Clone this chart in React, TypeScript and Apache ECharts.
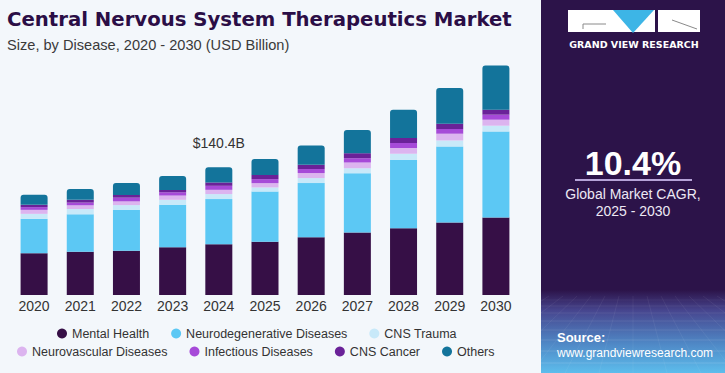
import React, { useEffect, useRef } from "react";
import * as echarts from "echarts";

const years = ["2020", "2021", "2022", "2023", "2024", "2025", "2026", "2027", "2028", "2029", "2030"];
const mentalHealth = [45.9, 47.6, 48.7, 52.5, 55.8, 58.6, 63.5, 68.5, 73.4, 79.5, 85.0];
const neurodegenerative = [37.7, 41.0, 44.8, 46.5, 49.5, 55.0, 59.4, 65.2, 75.1, 83.6, 94.6];
const cnsTrauma = [5.5, 5.8, 5.2, 5.5, 5.5, 4.5, 5.5, 5.5, 6.6, 6.6, 6.3];
const neurovascular = [4.4, 4.1, 4.1, 4.7, 4.7, 4.7, 5.5, 6.3, 6.3, 7.4, 6.6];
const infectious = [3.0, 3.0, 4.1, 3.6, 4.4, 4.4, 4.4, 4.7, 5.5, 5.2, 5.5];
const cnsCancer = [2.5, 3.0, 3.0, 2.5, 3.7, 4.7, 4.7, 5.5, 5.5, 5.8, 5.5];
const others = [11.0, 11.8, 13.2, 15.4, 16.8, 17.3, 21.2, 25.6, 31.1, 39.3, 48.4];

const seriesNames = [
  "Mental Health",
  "Neurodegenerative Diseases",
  "CNS Trauma",
  "Neurovascular Diseases",
  "Infectious Diseases",
  "CNS Cancer",
  "Others",
];
const seriesData = [mentalHealth, neurodegenerative, cnsTrauma, neurovascular, infectious, cnsCancer, others];
const seriesColors = ["#360f46", "#5cc8f4", "#c8e9f9", "#dcb4ef", "#a64ad8", "#6a2298", "#13749b"];

const highlightYear = "2024";
const highlightLabel = "$140.4B";

const FONT = "'Liberation Sans', Arial, sans-serif";

function panelGrid() {
  const items: any[] = [];
  const hs = [300, 306, 313, 321, 330, 340, 351, 363];
  hs.forEach((y, i) => {
    items.push({
      type: "line",
      shape: { x1: 541, y1: y, x2: 725, y2: y },
      style: { stroke: "#ffffff", opacity: 0.05 + i * 0.012, lineWidth: 1 },
      silent: true,
    });
  });
  for (let k = -8; k <= 8; k++) {
    items.push({
      type: "line",
      shape: { x1: 633 + k * 14, y1: 296, x2: 633 + k * 34, y2: 373 },
      style: { stroke: "#ffffff", opacity: 0.06, lineWidth: 1 },
      silent: true,
    });
  }
  return items;
}

export default function App() {
  const ref = useRef<HTMLDivElement>(null);

  useEffect(() => {
    if (!ref.current) return;
    const chart = echarts.init(ref.current, undefined, { renderer: "svg" });

    const series = seriesNames.map((name, i) => {
      const isTop = i === seriesNames.length - 1;
      return {
        name,
        type: "bar",
        stack: "total",
        barWidth: 27,
        itemStyle: {
          color: seriesColors[i],
          borderRadius: isTop ? [3, 3, 0, 0] : 0,
        },
        data: seriesData[i].map((v, j) =>
          isTop && years[j] === highlightYear
            ? {
                value: v,
                label: {
                  show: true,
                  position: "top",
                  distance: 17,
                  formatter: highlightLabel,
                  color: "#333333",
                  fontSize: 14,
                  fontFamily: FONT,
                },
              }
            : v
        ),
      };
    });

    const legendCommon = {
      icon: "circle",
      itemWidth: 10,
      itemHeight: 10,
      itemGap: 22,
      padding: 0,
      textStyle: { color: "#333333", fontSize: 12.5, fontFamily: FONT },
      selectedMode: false,
    };

    chart.setOption({
      animation: false,
      backgroundColor: "#f3f7fb",
      textStyle: { fontFamily: FONT },
      title: {
        text: "Central Nervous System Therapeutics Market",
        subtext: "Size, by Disease, 2020 - 2030 (USD Billion)",
        left: 7,
        top: 8,
        padding: 0,
        itemGap: 6,
        textStyle: {
          color: "#2b0e46",
          fontSize: 19.7,
          fontWeight: "bold",
          fontFamily: "'DejaVu Sans', sans-serif",
          lineHeight: 23,
        },
        subtextStyle: {
          color: "#3a3a3a",
          fontSize: 14.6,
          fontFamily: FONT,
          lineHeight: 16,
        },
      },
      legend: [
        { ...legendCommon, data: seriesNames.slice(0, 3), left: 57, top: 327 },
        { ...legendCommon, data: seriesNames.slice(3), left: 17, top: 345 },
      ],
      grid: { left: 11, width: 508, top: 40, bottom: 78 },
      xAxis: {
        type: "category",
        data: years,
        axisLine: { show: false },
        axisTick: { show: false },
        axisLabel: { color: "#333333", fontSize: 14, margin: 4, fontFamily: FONT },
      },
      yAxis: {
        type: "value",
        min: 0,
        max: 280,
        show: false,
        splitLine: { show: false },
      },
      series,
      graphic: [
        {
          type: "rect",
          shape: { x: 541, y: 0, width: 184, height: 373 },
          style: { fill: "#2c1349" },
          silent: true,
        },
        {
          type: "rect",
          shape: { x: 541, y: 290, width: 184, height: 83 },
          style: {
            fill: new echarts.graphic.LinearGradient(0, 0, 0, 1, [
              { offset: 0, color: "#2c1349" },
              { offset: 0.25, color: "#47468f" },
              { offset: 0.65, color: "#4f88c6" },
              { offset: 1, color: "#5dbdec" },
            ]),
          },
          silent: true,
        },
        ...panelGrid(),
        { type: "rect", shape: { x: 568, y: 10, width: 43, height: 22 }, style: { fill: "#ffffff" }, silent: true },
        { type: "line", shape: { x1: 583, y1: 24, x2: 606, y2: 24 }, style: { stroke: "#8a8a8a", lineWidth: 1 }, silent: true },
        { type: "line", shape: { x1: 583, y1: 24, x2: 583, y2: 29 }, style: { stroke: "#8a8a8a", lineWidth: 1 }, silent: true },
        { type: "rect", shape: { x: 611, y: 10, width: 44, height: 22 }, style: { fill: "#ffffff" }, silent: true },
        {
          type: "polygon",
          shape: { points: [[613, 10], [654, 10], [633, 33]] },
          style: { fill: "#3db5e6" },
          silent: true,
        },
        { type: "rect", shape: { x: 658, y: 10, width: 42, height: 22 }, style: { fill: "#ffffff" }, silent: true },
        { type: "line", shape: { x1: 672, y1: 20, x2: 697, y2: 29 }, style: { stroke: "#8a8a8a", lineWidth: 1 }, silent: true },
        {
          type: "text",
          x: 634,
          y: 44,
          style: {
            text: "GRAND VIEW RESEARCH",
            fill: "#ffffff",
            fontSize: 9.5,
            fontWeight: "bold",
            fontFamily: "'DejaVu Sans', sans-serif",
            align: "center",
            verticalAlign: "middle",
          },
          silent: true,
        },
        {
          type: "text",
          x: 633,
          y: 163,
          style: {
            text: "10.4%",
            fill: "#ffffff",
            fontSize: 34,
            fontWeight: "bold",
            fontFamily: FONT,
            align: "center",
            verticalAlign: "middle",
          },
          silent: true,
        },
        {
          type: "line",
          shape: { x1: 575, y1: 180, x2: 692, y2: 180 },
          style: { stroke: "#b6a3d8", lineWidth: 2 },
          silent: true,
        },
        {
          type: "text",
          x: 633,
          y: 194,
          style: {
            text: "Global Market CAGR,",
            fill: "#ece8f4",
            fontSize: 14,
            fontFamily: FONT,
            align: "center",
            verticalAlign: "middle",
          },
          silent: true,
        },
        {
          type: "text",
          x: 633,
          y: 211,
          style: {
            text: "2025 - 2030",
            fill: "#ece8f4",
            fontSize: 14,
            fontFamily: FONT,
            align: "center",
            verticalAlign: "middle",
          },
          silent: true,
        },
        {
          type: "text",
          x: 557,
          y: 337,
          style: {
            text: "Source:",
            fill: "#ffffff",
            fontSize: 13,
            fontWeight: "bold",
            fontFamily: FONT,
            align: "left",
            verticalAlign: "middle",
          },
          silent: true,
        },
        {
          type: "text",
          x: 557,
          y: 353,
          style: {
            text: "www.grandviewresearch.com",
            fill: "#ffffff",
            fontSize: 12,
            fontFamily: FONT,
            align: "left",
            verticalAlign: "middle",
          },
          silent: true,
        },
      ],
    });

    return () => chart.dispose();
  }, []);

  return (
    <div
      ref={ref}
      style={{ position: "fixed", left: 0, top: 0, width: 725, height: 373 }}
    />
  );
}
